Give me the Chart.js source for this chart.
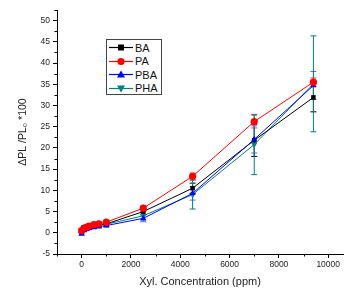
<!DOCTYPE html>
<html>
<head>
<meta charset="utf-8">
<script src="https://cdn.jsdelivr.net/npm/chart.js@4.4.1/dist/chart.umd.min.js"></script>
<style>
  html, body { margin: 0; padding: 0; background: #fff; }
  #wrap { position: relative; width: 347px; height: 289px; }
  #chart { display: block; }
  #legend {
    position: absolute; left: 106px; top: 39px; width: 54px; height: 53px;
    border: 1.5px solid #444; background: #fff;
    font-family: "Liberation Sans", Arial, sans-serif; font-size: 11px; color: #111;
    padding-top: 1px;
  }
  #legend .item { display: flex; align-items: center; height: 13.5px; }
  #legend svg { margin-left: 2px; margin-right: 2px; }
</style>
</head>
<body>
<div id="wrap">
  <canvas id="chart" width="347" height="289"></canvas>
  <div id="legend"></div>
</div>
<script>
// data
const concentration = [0, 100, 200, 300, 500, 700, 1000, 2500, 4500, 7000, 9400];
const seriesNames = ["BA", "PA", "PBA", "PHA"];
const baValues = [0.3, 1.0, 1.2, 1.4, 1.6, 1.8, 2.1, 5.0, 10.5, 21.8, 31.9];
const paValues = [0.5, 1.1, 1.3, 1.6, 1.9, 2.1, 2.5, 5.8, 13.3, 26.2, 35.5];
const pbaValues = [-0.2, 0.6, 0.9, 1.1, 1.3, 1.5, 1.7, 3.4, 9.3, 22.0, 34.7];
const phaValues = [0.5, 1.2, 1.4, 1.6, 1.8, 1.9, 2.0, 4.0, 9.0, 20.8, 35.1];
const baErrors = [0.3, 0.3, 0.3, 0.3, 0.3, 0.3, 0.3, 0.6, 1.2, 3.8, 3.4];
const paErrors = [0.3, 0.3, 0.3, 0.3, 0.3, 0.3, 0.3, 0.5, 0.8, 1.5, 1.0];
const pbaErrors = [0.4, 0.4, 0.4, 0.4, 0.4, 0.4, 0.4, 0.8, 1.6, 3.2, 3.3];
const phaErrors = [0.5, 0.5, 0.5, 0.5, 0.5, 0.5, 0.5, 1.0, 3.4, 7.1, 11.3];
const xTicks = [0, 2000, 4000, 6000, 8000, 10000];
const xMinorTicks = [-1000, 1000, 3000, 5000, 7000, 9000];
const yTicks = [-5, 0, 5, 10, 15, 20, 25, 30, 35, 40, 45, 50];
const yMinorTicks = [-2.5, 2.5, 7.5, 12.5, 17.5, 22.5, 27.5, 32.5, 37.5, 42.5, 47.5, 52.5];

const colors = ["#000000", "#ff0000", "#0000ff", "#008080"];
const errorColors = ["#000000", "#ff4040", "#6060ff", "#008080"];
const markers = ["rect", "circle", "triangle", "triangle"];
const rotations = [0, 0, 0, 180];
const allValues = [baValues, paValues, pbaValues, phaValues];
const allErrors = [baErrors, paErrors, pbaErrors, phaErrors];

const FONT = "'Liberation Sans', Arial, sans-serif";

function toPoints(values) {
  return values.map((v, i) => ({ x: concentration[i], y: v }));
}

const datasets = seriesNames.map((name, i) => ({
  label: name,
  data: toPoints(allValues[i]),
  borderColor: colors[i],
  backgroundColor: colors[i],
  borderWidth: 1,
  pointStyle: markers[i],
  rotation: rotations[i],
  pointRadius: i === 0 ? 3.2 : 3.6,
  pointBorderWidth: 0,
  tension: 0,
  errors: allErrors[i],
  errorColor: errorColors[i],
  order: [2, 0, 1, 3][i],
}));

// error bars drawn from the chart's scales
const errorBars = {
  id: "errorBars",
  beforeDatasetsDraw(chart) {
    const ctx = chart.ctx;
    const xs = chart.scales.x, ys = chart.scales.y;
    ctx.save();
    chart.data.datasets.forEach((ds) => {
      ctx.strokeStyle = ds.errorColor;
      ctx.lineWidth = 1;
      ds.data.forEach((p, j) => {
        const e = ds.errors[j];
        const px = xs.getPixelForValue(p.x);
        const top = ys.getPixelForValue(p.y + e);
        const bot = ys.getPixelForValue(p.y - e);
        ctx.beginPath();
        ctx.moveTo(px, top);
        ctx.lineTo(px, bot);
        ctx.moveTo(px - 3, top);
        ctx.lineTo(px + 3, top);
        ctx.moveTo(px - 3, bot);
        ctx.lineTo(px + 3, bot);
        ctx.stroke();
      });
    });
    ctx.restore();
  },
};

// minor ticks, Origin style
const minorTicks = {
  id: "minorTicks",
  afterDraw(chart) {
    const ctx = chart.ctx;
    const xs = chart.scales.x, ys = chart.scales.y;
    const area = chart.chartArea;
    ctx.save();
    ctx.strokeStyle = "#000";
    ctx.lineWidth = 1;
    ctx.beginPath();
    xMinorTicks.forEach((v) => {
      const px = Math.round(xs.getPixelForValue(v)) + 0.5;
      ctx.moveTo(px, area.bottom);
      ctx.lineTo(px, area.bottom + 2.5);
    });
    yMinorTicks.forEach((v) => {
      const py = Math.round(ys.getPixelForValue(v)) + 0.5;
      ctx.moveTo(area.left, py);
      ctx.lineTo(area.left - 2.5, py);
    });
    ctx.stroke();
    ctx.restore();
  },
};

new Chart(document.getElementById("chart"), {
  type: "line",
  data: { datasets: datasets },
  options: {
    responsive: false,
    animation: false,
    layout: { padding: { top: 10, right: 0, left: 0, bottom: 0 } },
    plugins: {
      legend: { display: false },
      tooltip: { enabled: false },
    },
    scales: {
      x: {
        type: "linear",
        min: -1000,
        max: 10600,
        afterBuildTicks: (scale) => {
          scale.ticks = xTicks.map((v) => ({ value: v }));
        },
        afterFit: (scale) => {
          scale.height = 35;
        },
        grid: { drawOnChartArea: false, tickLength: 4, color: "#000" },
        border: { display: true, color: "#000", width: 1 },
        ticks: {
          color: "#222",
          padding: 2,
          maxRotation: 0,
          font: { family: FONT, size: 8.5 },
          callback: (v) => String(v),
        },
        title: {
          display: true,
          text: "Xyl. Concentration (ppm)",
          color: "#222",
          font: { family: FONT, size: 11 },
          padding: { top: 0, bottom: 0 },
        },
      },
      y: {
        min: -5,
        max: 52.5,
        afterBuildTicks: (scale) => {
          scale.ticks = yTicks.map((v) => ({ value: v }));
        },
        afterFit: (scale) => {
          scale.width = 57;
        },
        grid: { drawOnChartArea: false, tickLength: 4, color: "#000" },
        border: { display: true, color: "#000", width: 1 },
        ticks: {
          color: "#222",
          padding: 3,
          font: { family: FONT, size: 8.5 },
          callback: (v) => String(v),
        },
        title: {
          display: true,
          text: "\u0394PL /PL\u2080 *100",
          color: "#222",
          font: { family: FONT, size: 10.5 },
          padding: { top: 17, bottom: 0 },
        },
      },
    },
  },
  plugins: [errorBars, minorTicks],
});

// html legend built from the datasets
const legend = document.getElementById("legend");
datasets.forEach((ds, i) => {
  let shape;
  if (markers[i] === "rect") {
    shape = '<rect x="9" y="3.5" width="6" height="6" fill="' + colors[i] + '"/>';
  } else if (markers[i] === "circle") {
    shape = '<circle cx="12" cy="6.5" r="3.6" fill="' + colors[i] + '"/>';
  } else if (rotations[i] === 0) {
    shape = '<polygon points="12,2.5 16,9.5 8,9.5" fill="' + colors[i] + '"/>';
  } else {
    shape = '<polygon points="8,3.5 16,3.5 12,10.5" fill="' + colors[i] + '"/>';
  }
  const item = document.createElement("div");
  item.className = "item";
  item.innerHTML =
    '<svg width="24" height="13"><line x1="0" y1="6.5" x2="24" y2="6.5" stroke="' +
    colors[i] + '" stroke-width="1.2"/>' + shape + "</svg><span>" + ds.label + "</span>";
  legend.appendChild(item);
});
</script>
</body>
</html>
